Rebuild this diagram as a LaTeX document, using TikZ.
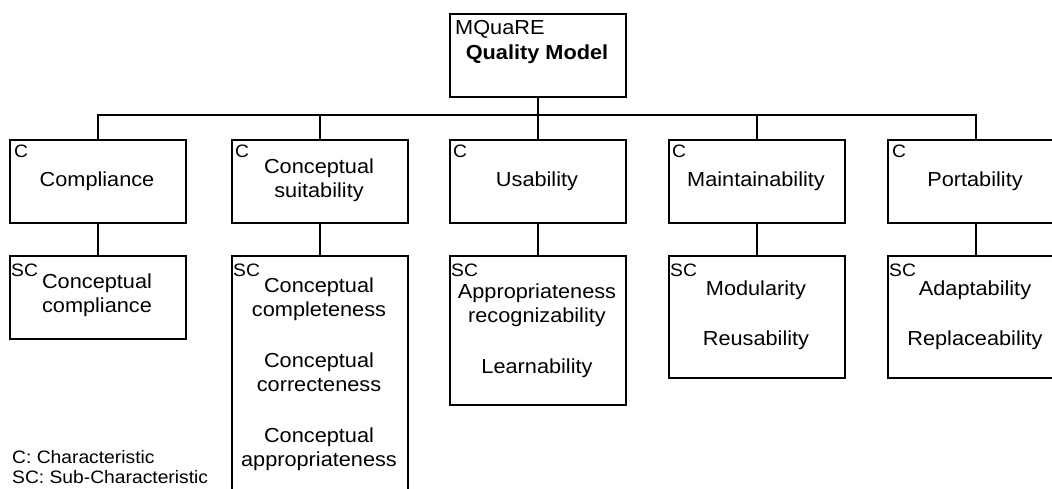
\documentclass[tikz,border=0pt]{standalone}
\usepackage{fontspec}
\setmainfont{Liberation Sans}[FakeStretch=1.07]
\newcommand{\mylines}[1]{\begin{tabular}[t]{@{}c@{}}#1\end{tabular}}
\begin{document}
\begin{tikzpicture}[x=1pt,y=-1pt,
  box/.style={draw=black,line width=1.8pt,rectangle,anchor=north west,inner sep=0pt,minimum width=176pt},
  txt/.style={inner sep=0pt,anchor=base,font=\fontsize{20.3}{24.5}\selectfont},
  lbl/.style={inner sep=0pt,anchor=base west,font=\fontsize{18}{20}\selectfont},
  legend/.style={inner sep=0pt,anchor=base west,font=\fontsize{18}{20}\selectfont},
  conn/.style={draw=black,line width=1.8pt}]
\useasboundingbox (0,0) rectangle (1052,488);
\clip (0,0) rectangle (1052,488);
% top
\node[box,minimum width=176pt,minimum height=83pt] (top) at (449,13) {};
\node[lbl,font=\fontsize{20.3}{24}\selectfont] (topl) at (455,34) {MQuaRE};
\node[txt] (topt) at (537,59) {\bfseries Quality Model};
% characteristics
\node[box,minimum height=83pt] (c1) at (9,139) {};
\node[box,minimum height=83pt] (c2) at (231,139) {};
\node[box,minimum height=83pt] (c3) at (449,139) {};
\node[box,minimum height=83pt] (c4) at (668,139) {};
\node[box,minimum height=83pt] (c5) at (887,139) {};
\foreach \n/\x in {c1/14,c2/235,c3/453,c4/672,c5/892}{
  \node[lbl] (\n l) at (\x,157) {C};
}
\node[txt] (c1t) at (97,186) {Compliance};
\node[txt] (c2t) at (319,173) {\mylines{Conceptual\\suitability}};
\node[txt] (c3t) at (537,186) {Usability};
\node[txt] (c4t) at (756,186) {Maintainability};
\node[txt] (c5t) at (975,186) {Portability};
% sub-characteristics
\node[box,minimum height=83pt] (s1) at (9,255) {};
\node[box,minimum height=250pt] (s2) at (231,255) {};
\node[box,minimum height=149pt] (s3) at (449,255) {};
\node[box,minimum height=122pt] (s4) at (668,255) {};
\node[box,minimum height=122pt] (s5) at (887,255) {};
\foreach \n/\x in {s1/11,s2/233,s3/451,s4/670,s5/889}{
  \node[lbl] (\n l) at (\x,276) {SC};
}
\node[txt] (s1t) at (97,288) {\mylines{Conceptual\\compliance}};
\node[txt] (s2t) at (319,292) {\mylines{Conceptual\\completeness\\[26pt]Conceptual\\correcteness\\[26pt]Conceptual\\appropriateness}};
\node[txt] (s3t) at (537,298) {\mylines{Appropriateness\\recognizability\\[26pt]Learnability}};
\node[txt] (s4t) at (756,295) {\mylines{Modularity\\[26pt]Reusability}};
\node[txt] (s5t) at (975,295) {\mylines{Adaptability\\[26pt]Replaceability}};
% connectors
\coordinate (bus) at (537,115);
\draw[conn] (top.south) -- (top.south |- bus);
\draw[conn] (c1.north) -- (c1.north |- bus) -- (c5.north |- bus) -- (c5.north);
\draw[conn] (c2.north) -- (c2.north |- bus);
\draw[conn] (c3.north) -- (c3.north |- bus);
\draw[conn] (c4.north) -- (c4.north |- bus);
\foreach \i in {1,...,5}{
  \draw[conn] (c\i.south) -- (s\i.north);
}
% legend
\node[legend] (lg1) at (12,463) {C: Characteristic};
\node[legend] (lg2) at (12,483) {SC: Sub-Characteristic};
\end{tikzpicture}
\end{document}
